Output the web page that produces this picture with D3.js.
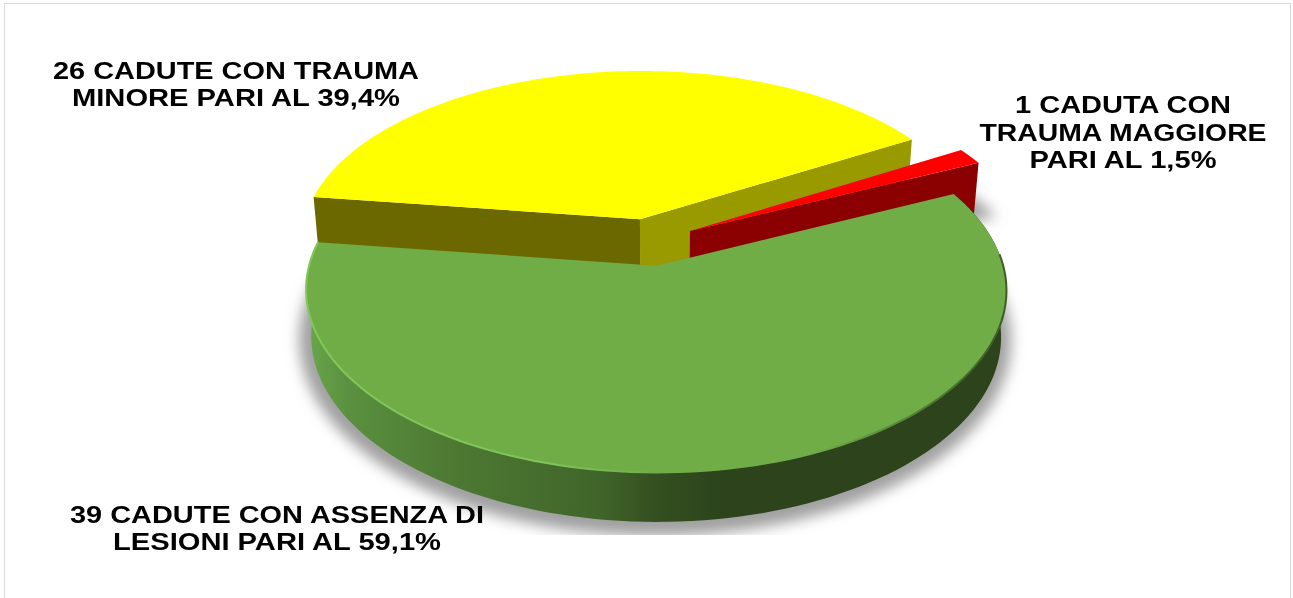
<!DOCTYPE html>
<html lang="en">

<head>
    <meta charset="UTF-8">
    <title>Cadute</title>
    <style>
        html,
        body {
            padding: 0;
            margin: 0;
            height: 100%;
            overflow: hidden;
            background: #fff;
        }

        text {
            font-family: "Liberation Sans", Arial, sans-serif;
            font-weight: bold;
            fill: #000;
            text-anchor: middle;
        }
    </style>
</head>

<body>

    <script src="https://cdn.jsdelivr.net/npm/d3@7/dist/d3.min.js"></script>
    <script>

        const categories = ['Assenza di lesioni', 'Trauma minore', 'Trauma maggiore']
        const values = [39, 26, 1]
        const labelLines = [
            ['39 CADUTE CON ASSENZA DI', 'LESIONI PARI AL 59,1%'],
            ['26 CADUTE CON TRAUMA', 'MINORE PARI AL 39,4%'],
            ['1 CADUTA CON', 'TRAUMA MAGGIORE', 'PARI AL 1,5%']
        ]

        const width = 1293
        const height = 598

        // the pie lies on a tilted plane: disc coords -> screen through a small perspective
        const view = { cx: 649, cy: 242, rx: 341, ry: 173, k: 0.13, depth: 46 }
        const explode = 0.137
        const startDeg = 65 // clockwise from north, where the green slice starts

        const topFace = (u, v) => {
            const w = 1 + view.k * v
            return [view.cx + view.rx * u / w, view.cy - view.ry * v / w]
        }
        const bottomFace = (u, v, depth = view.depth) => {
            const p = topFace(u, v)
            return [
                view.cx + (p[0] - view.cx) * 0.985,
                view.cy + (p[1] - view.cy) * 1.015 + depth
            ]
        }
        // cut walls run on behind the green slice, which hides their lower edge
        const wallFace = (u, v) => bottomFace(u, v, view.depth + 10)

        const arcs = d3.pie()
            .sort(null)
            .startAngle(startDeg * Math.PI / 180)
            .endAngle((startDeg + 360) * Math.PI / 180)(values)

        // a slice in disc coords, moved out along its bisector
        const slices = arcs.map((a) => {
            const mid = (a.startAngle + a.endAngle) / 2
            const ox = explode * Math.sin(mid)
            const oy = explode * Math.cos(mid)
            const rim = d3.range(0, 1.0001, 1 / 120).map((t) => {
                const an = a.startAngle + (a.endAngle - a.startAngle) * t
                return [ox + Math.sin(an), oy + Math.cos(an)]
            })
            return { apex: [ox, oy], rim: rim }
        })

        const line = d3.line()
        const closed = (pts) => line(pts) + 'Z'
        const onPlane = (f, pts) => pts.map((p) => f(p[0], p[1]))

        const svg = d3.select('body')
            .append('svg')
            .attr('width', width)
            .attr('height', height)
            .style('display', 'block')

        const defs = svg.append('defs')

        defs.append('filter').attr('id', 'soft')
            .attr('filterUnits', 'userSpaceOnUse')
            .attr('x', 0).attr('y', 0).attr('width', width).attr('height', height)
            .append('feGaussianBlur').attr('stdDeviation', 7)

        defs.append('filter').attr('id', 'edge')
            .attr('filterUnits', 'userSpaceOnUse')
            .attr('x', 0).attr('y', 0).attr('width', width).attr('height', height)
            .append('feGaussianBlur').attr('stdDeviation', 0.6)

        defs.append('filter').attr('id', 'textSoft')
            .attr('filterUnits', 'userSpaceOnUse')
            .attr('x', 0).attr('y', 0).attr('width', width).attr('height', height)
            .append('feGaussianBlur').attr('stdDeviation', 0.35)

        defs.append('clipPath').attr('id', 'shadowClip')
            .append('rect').attr('x', 0).attr('y', 0).attr('width', width).attr('height', 535)

        const wallGrad = defs.append('linearGradient').attr('id', 'wall')
            .attr('gradientUnits', 'userSpaceOnUse')
            .attr('x1', 305).attr('x2', 1005).attr('y1', 0).attr('y2', 0)
        const wallStops = [[0, '#6aa84a'], [0.06, '#5a9140'], [0.2, '#4e7a33'], [0.42, '#40652a'], [0.5, '#344f20'], [0.6, '#2c431b'], [1, '#2c431b']]
        wallGrad.selectAll('stop').data(wallStops).enter().append('stop')
            .attr('offset', (d) => d[0])
            .attr('stop-color', (d) => d[1])

        const rimGrad = defs.append('linearGradient').attr('id', 'rimLight')
            .attr('gradientUnits', 'userSpaceOnUse')
            .attr('x1', 305).attr('x2', 1005).attr('y1', 0).attr('y2', 0)
        const rimStops = [[0, '#80c85a'], [0.35, '#7fc45a'], [0.5, '#70ad47'], [0.72, '#70ad47'], [1, '#3d5c28']]
        rimGrad.selectAll('stop').data(rimStops).enter().append('stop')
            .attr('offset', (d) => d[0])
            .attr('stop-color', (d) => d[1])

        // frame
        svg.append('rect')
            .attr('x', 4.5).attr('y', 3.5)
            .attr('width', 1286).attr('height', height)
            .attr('fill', 'none')
            .attr('stroke', '#d9d9d9')

        const [green, yellow, red] = slices

        // soft shadow under the green slice and the red tip
        const shadow = svg.append('g')
            .attr('clip-path', 'url(#shadowClip)')
            .append('g')
            .attr('filter', 'url(#soft)')
        shadow.selectAll('path')
            .data([green, red])
            .enter()
            .append('path')
            .attr('d', (s) => closed(onPlane(bottomFace, [s.apex].concat(s.rim))))
            .attr('transform', 'translate(-1, 3)')
            .attr('fill', '#a0a0a0')
            .attr('stroke', '#a0a0a0')
            .attr('stroke-width', 22)

        // yellow slice
        const yRimTop = onPlane(topFace, yellow.rim)
        const yRimWall = onPlane(wallFace, yellow.rim)
        const yApexT = topFace(yellow.apex[0], yellow.apex[1])
        const yApexB = wallFace(yellow.apex[0], yellow.apex[1])

        svg.append('path')
            .attr('d', closed([yApexT, yApexB, yRimWall[yRimWall.length - 1], yRimTop[yRimTop.length - 1]]))
            .attr('fill', '#999900')
        svg.append('path')
            .attr('d', closed([yApexT, yApexB, yRimWall[0], yRimTop[0]]))
            .attr('fill', '#6b6800')
        svg.append('path')
            .attr('d', closed([yApexT].concat(yRimTop)))
            .attr('fill', '#ffff00')

        // red slice
        const rRimTop = onPlane(topFace, red.rim)
        const rRimWall = onPlane(wallFace, red.rim)
        const rApexT = topFace(red.apex[0], red.apex[1])
        const rApexB = wallFace(red.apex[0], red.apex[1])

        svg.append('path')
            .attr('d', closed([rApexT, rApexB, rRimWall[rRimWall.length - 1], rRimTop[rRimTop.length - 1]]))
            .attr('fill', '#8b0000')
        svg.append('path')
            .attr('d', closed([rApexT].concat(rRimTop)))
            .attr('fill', '#ff0000')

        // green slice, outer wall first
        const gRimTop = onPlane(topFace, green.rim)
        const gRimBot = onPlane(bottomFace, green.rim)

        svg.append('path')
            .attr('d', closed(gRimTop.concat(gRimBot.slice().reverse())))
            .attr('fill', 'url(#wall)')

        svg.append('path')
            .attr('d', closed([topFace(green.apex[0], green.apex[1])].concat(gRimTop)))
            .attr('fill', '#70ad47')

        svg.append('path')
            .attr('d', line(gRimTop.slice(12)))
            .attr('fill', 'none')
            .attr('stroke', 'url(#rimLight)')
            .attr('stroke-width', 2)
            .attr('filter', 'url(#edge)')

        // labels, in data order
        const labelAt = [
            { x: 277, y: 523, dy: 27, sizes: [414, 328] },
            { x: 236, y: 79, dy: 27, sizes: [366, 328] },
            { x: 1123, y: 113, dy: 27.5, sizes: [216, 287, 187] }
        ]

        labelLines.forEach((lines, i) => {
            const pos = labelAt[i]
            svg.append('g')
                .attr('class', 'label')
                .attr('aria-label', categories[i])
                .attr('filter', 'url(#textSoft)')
                .selectAll('text')
                .data(lines)
                .enter()
                .append('text')
                .attr('x', pos.x)
                .attr('y', (d, j) => pos.y + j * pos.dy)
                .attr('font-size', 24)
                .attr('textLength', (d, j) => pos.sizes[j])
                .attr('lengthAdjust', 'spacingAndGlyphs')
                .text((d) => d)
        })

    </script>
</body>

</html>
